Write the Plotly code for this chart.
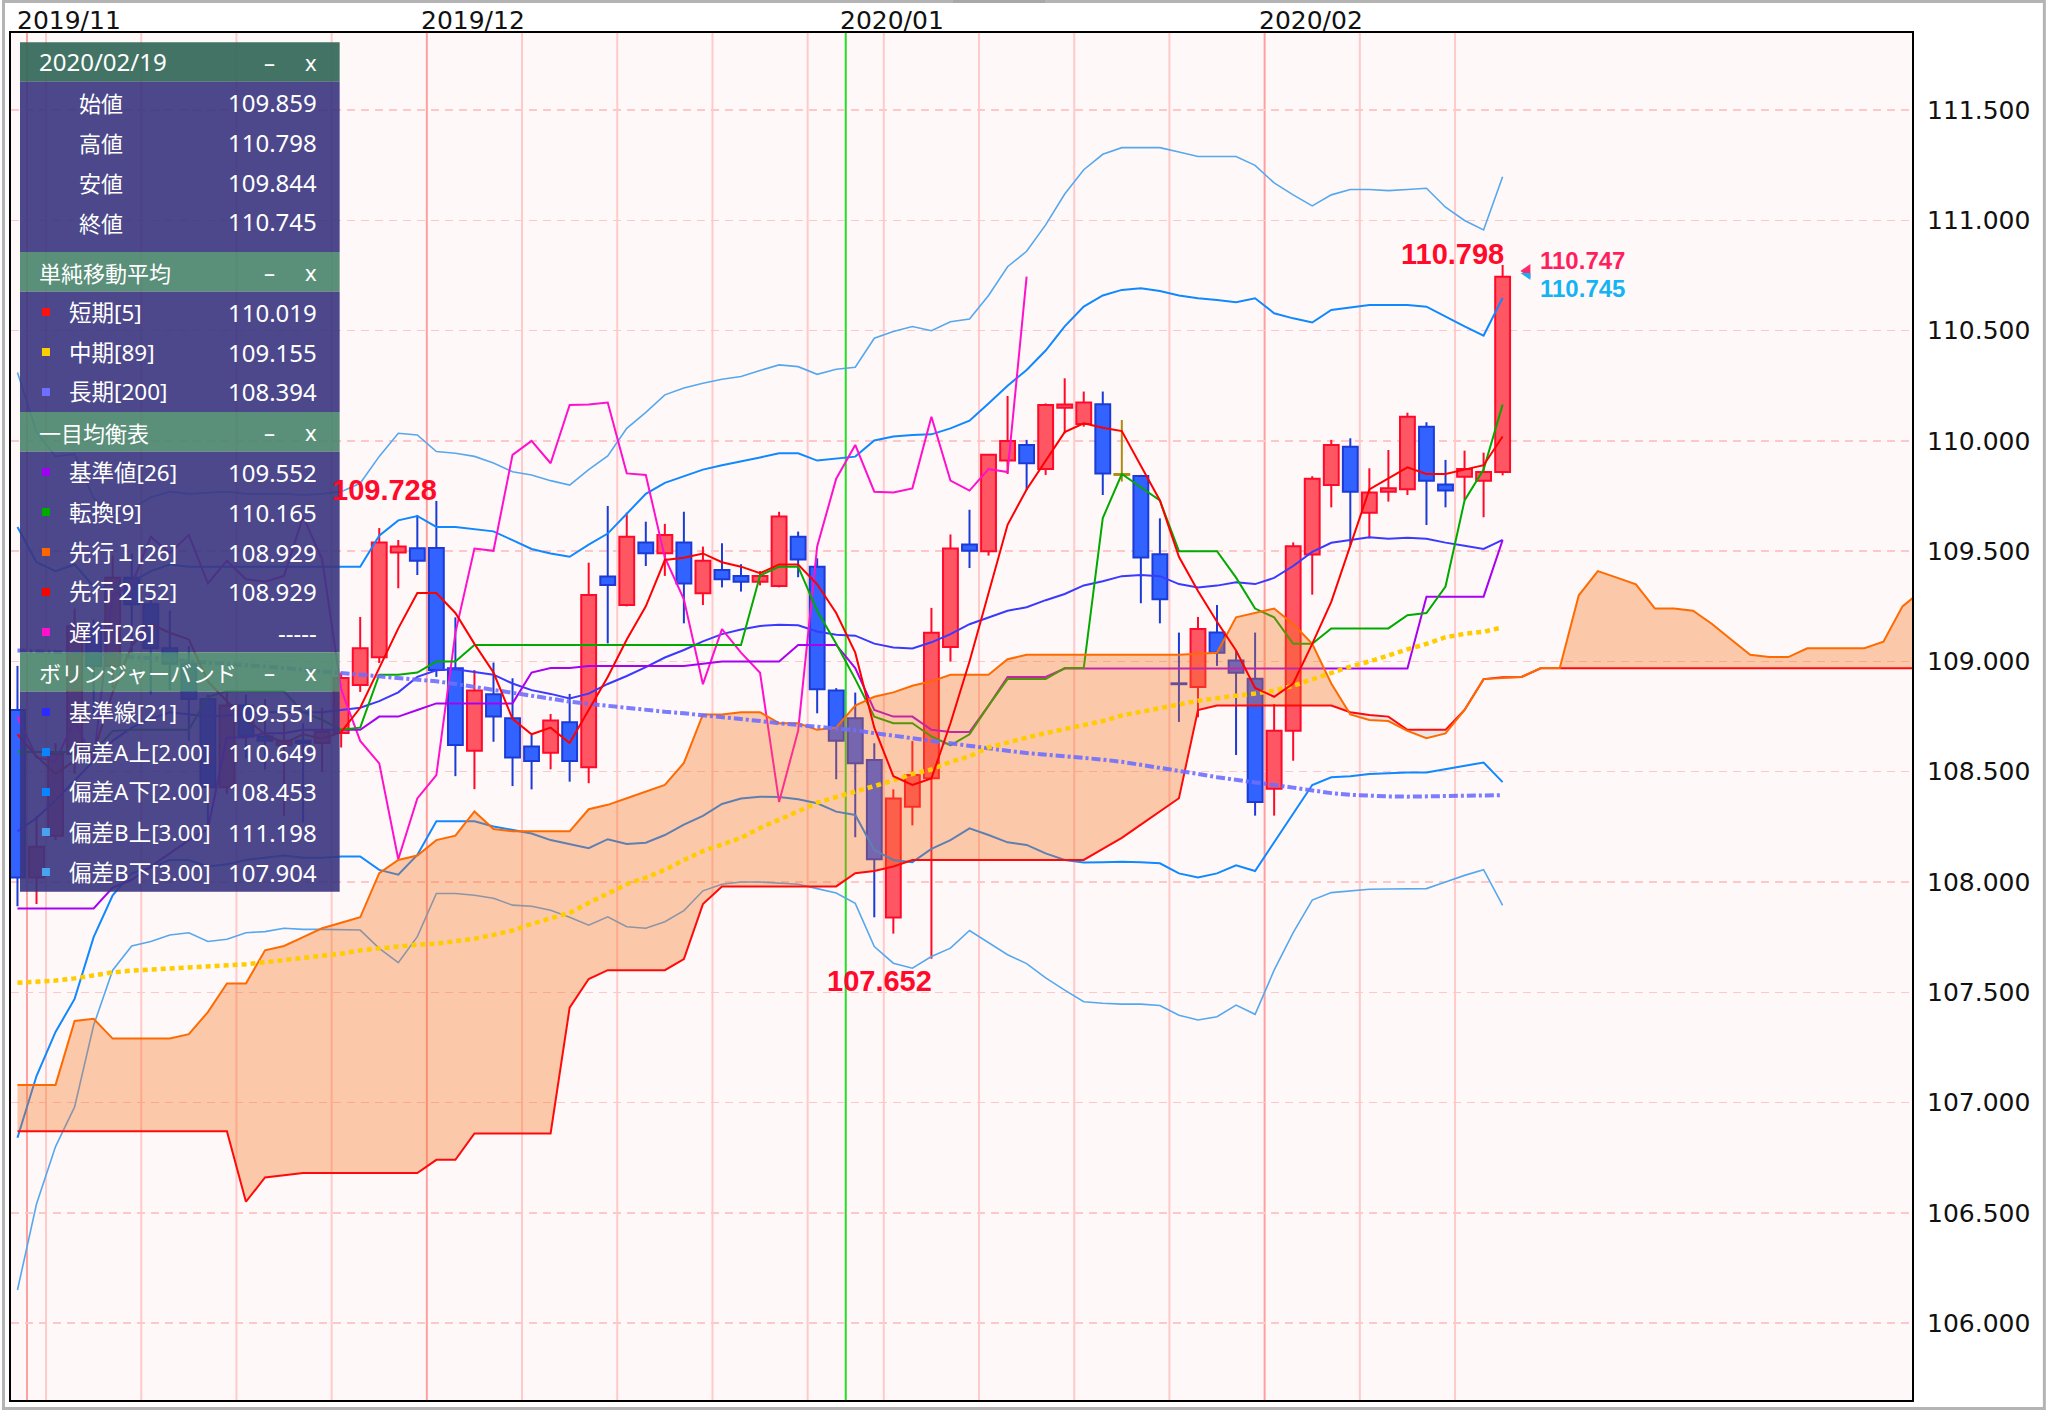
import plotly.graph_objects as go
import pandas as pd

# ---------------- figure geometry (pixels) ----------------
W, H = 2046, 1410
PL, PR, PT, PB = 9, 1912, 33, 1400

def fx(x):
    return (x - PL) / (PR - PL)

def fy(y):
    return (PB - y) / (PB - PT)

# ---------------- data ----------------
dates = [d for d in pd.bdate_range("2019-10-31", "2020-02-19") if not (d.month == 1 and d.day == 1)]
idx = list(range(len(dates)))

opens = [108.78, 108.02, 108.21, 108.58, 109.16, 108.98, 109.38, 109.26, 109.06, 108.99,
         108.83, 108.43, 108.80, 108.66, 108.62, 108.64, 108.63, 108.676, 108.893, 109.019,
         109.494, 109.513, 109.515, 108.969, 108.595, 108.851, 108.742, 108.614, 108.586, 108.724,
         108.52, 109.385, 109.256, 109.539, 109.491, 109.539, 109.309, 109.415, 109.388, 109.362,
         109.342, 109.566, 109.43, 108.868, 108.742, 108.553, 107.839, 108.341, 108.47, 109.066,
         109.53, 109.5, 109.911, 109.982, 109.873, 110.151, 110.077, 110.166, 109.846, 109.841,
         109.486, 108.899, 108.884, 109.131, 109.004, 108.922, 108.423, 108.686, 109.485, 109.8,
         109.974, 109.675, 109.77, 109.781, 110.065, 109.803, 109.838, 109.82, 109.859]
highs = [108.98, 108.30, 108.63, 109.24, 109.19, 109.48, 109.49, 109.30, 109.23, 109.07,
         108.85, 108.86, 108.85, 108.83, 108.73, 108.72, 108.79, 108.95, 109.202, 109.605,
         109.551, 109.664, 109.728, 109.20, 108.961, 108.995, 108.924, 108.667, 108.762, 108.853,
         109.448, 109.705, 109.675, 109.634, 109.624, 109.679, 109.521, 109.536, 109.441, 109.41,
         109.679, 109.589, 109.468, 108.879, 108.859, 108.629, 108.42, 108.639, 109.243, 109.576,
         109.688, 109.94, 110.204, 110.005, 110.17, 110.284, 110.224, 110.224, 110.095, 109.846,
         109.649, 109.131, 109.202, 109.256, 109.05, 109.131, 108.807, 109.54, 109.84, 110.005,
         110.012, 109.876, 109.959, 110.128, 110.085, 109.914, 109.956, 109.947, 110.798]
lows = [107.89, 107.90, 108.19, 108.49, 108.76, 108.88, 109.04, 108.85, 108.87, 108.64,
        108.24, 108.40, 108.56, 108.51, 108.30, 108.27, 108.50, 108.61, 108.862, 108.993,
        109.332, 109.392, 108.93, 108.48, 108.421, 108.636, 108.435, 108.42, 108.511, 108.455,
        108.448, 109.082, 109.25, 109.433, 109.388, 109.173, 109.256, 109.336, 109.317, 109.345,
        109.336, 109.382, 108.765, 108.466, 108.203, 107.84, 107.766, 108.257, 107.652, 109.0,
        109.424, 109.48, 109.85, 109.778, 109.846, 110.035, 110.065, 109.755, 109.816, 109.264,
        109.173, 108.726, 108.747, 108.98, 108.576, 108.301, 108.301, 108.55, 109.303, 109.699,
        109.528, 109.559, 109.725, 109.755, 109.619, 109.699, 109.732, 109.654, 109.844]
closes = [108.02, 108.16, 108.58, 109.16, 108.98, 109.38, 109.26, 109.06, 108.99, 108.83,
          108.43, 108.80, 108.66, 108.64, 108.64, 108.63, 108.68, 108.925, 109.06, 109.539,
          109.521, 109.457, 108.961, 108.621, 108.868, 108.75, 108.565, 108.549, 108.732, 108.549,
          109.302, 109.347, 109.566, 109.491, 109.574, 109.354, 109.457, 109.373, 109.362, 109.388,
          109.657, 109.463, 108.874, 108.64, 108.538, 108.103, 108.379, 108.485, 109.13, 109.512,
          109.502, 109.937, 110.0, 109.899, 110.163, 110.165, 110.174, 109.853, 109.846, 109.472,
          109.282, 108.897, 109.147, 109.04, 108.949, 108.363, 108.686, 109.522, 109.829, 109.982,
          109.77, 109.766, 109.785, 110.11, 109.82, 109.775, 109.873, 109.859, 110.745]

sma5 = [108.67, 108.57, 108.49, 108.55, 108.59, 108.86, 109.07, 109.17, 109.13, 109.10,
        108.91, 108.82, 108.74, 108.67, 108.63, 108.67, 108.65, 108.68, 108.79, 108.97,
        109.15, 109.31, 109.31, 109.22, 109.08, 108.95, 108.74, 108.67, 108.70, 108.63,
        108.78, 108.93, 109.10, 109.25, 109.46, 109.47, 109.49, 109.45, 109.43, 109.40,
        109.44, 109.44, 109.35, 109.22, 109.04, 108.70, 108.48, 108.44, 108.47, 108.72,
        109.00, 109.31, 109.62, 109.78, 109.91, 110.04, 110.08, 110.06, 110.045, 109.89,
        109.73, 109.475, 109.32, 109.18, 109.05, 108.88, 108.84, 108.90, 109.08, 109.27,
        109.53, 109.78, 109.83, 109.88, 109.85, 109.85, 109.87, 109.89, 110.02]
sma89 = [107.543, 107.546, 107.553, 107.563, 107.578, 107.59, 107.598, 107.602, 107.606, 107.61,
         107.615, 107.62, 107.627, 107.636, 107.645, 107.653, 107.662, 107.675, 107.69, 107.70,
         107.71, 107.716, 107.72, 107.73, 107.743, 107.76, 107.78, 107.81, 107.835, 107.86,
         107.905, 107.95, 107.99, 108.02, 108.055, 108.10, 108.14, 108.17, 108.20, 108.245,
         108.28, 108.32, 108.36, 108.385, 108.41, 108.43, 108.46, 108.49, 108.51, 108.545,
         108.57, 108.61, 108.635, 108.655, 108.675, 108.692, 108.71, 108.73, 108.755, 108.77,
         108.79, 108.805, 108.822, 108.835, 108.845, 108.855, 108.868, 108.89, 108.918, 108.95,
         108.977, 109.0, 109.03, 109.055, 109.08, 109.11, 109.125, 109.135, 109.155]
sma200 = [109.05, 109.048, 109.045, 109.04, 109.035, 109.03, 109.02, 109.015, 109.01, 109.0,
          108.995, 108.99, 108.985, 108.978, 108.97, 108.963, 108.955, 108.947, 108.94, 108.934,
          108.928, 108.92, 108.91, 108.898, 108.885, 108.87, 108.855, 108.843, 108.83, 108.818,
          108.808, 108.798, 108.788, 108.78, 108.772, 108.765, 108.757, 108.75, 108.74, 108.73,
          108.72, 108.713, 108.706, 108.697, 108.688, 108.675, 108.665, 108.652, 108.64, 108.628,
          108.615, 108.605, 108.595, 108.585, 108.578, 108.571, 108.563, 108.555, 108.545, 108.532,
          108.518, 108.503, 108.49, 108.475, 108.462, 108.45, 108.44, 108.428, 108.415, 108.403,
          108.395, 108.39, 108.388, 108.387, 108.388, 108.389, 108.39, 108.392, 108.394]

tenkan = [108.59, 108.59, 108.59, 108.59, 108.59, 108.685, 108.69, 108.69, 108.69, 108.69,
          108.84, 108.865, 108.865, 108.865, 108.865, 108.77, 108.735, 108.69, 108.70, 108.94,
          108.94, 108.95, 109.0, 109.0, 109.075, 109.075, 109.075, 109.075, 109.075, 109.075,
          109.075, 109.075, 109.075, 109.075, 109.075, 109.075, 109.075, 109.075, 109.075, 109.39,
          109.43, 109.43, 109.23, 109.08, 108.92, 108.75, 108.72, 108.72, 108.66, 108.62,
          108.67, 108.80, 108.92, 108.92, 108.92, 108.97, 108.97, 109.65, 109.85, 109.79,
          109.73, 109.50, 109.50, 109.50, 109.38, 109.24, 109.20, 109.08, 109.08, 109.15,
          109.15, 109.15, 109.15, 109.21, 109.22, 109.34, 109.73, 109.87, 110.165]
kijun = [107.88, 107.88, 107.88, 107.88, 107.88, 107.975, 108.01, 108.07, 108.13, 108.19,
         108.24, 108.655, 108.655, 108.675, 108.675, 108.69, 108.69, 108.69, 108.69, 108.75,
         108.75, 108.78, 108.81, 108.81, 108.81, 108.81, 108.81, 108.95, 108.97, 108.97,
         108.98, 108.98, 108.98, 108.98, 108.98, 108.98, 108.99, 109.0, 109.0, 109.0,
         109.0, 109.075, 109.075, 109.075, 108.97, 108.78, 108.75, 108.75, 108.69, 108.68,
         108.68, 108.80, 108.93, 108.93, 108.93, 108.968, 108.968, 108.968, 108.968, 108.968,
         108.968, 108.968, 108.968, 108.968, 108.968, 108.968, 108.968, 108.968, 108.968, 108.968,
         108.968, 108.968, 108.968, 108.968, 109.294, 109.294, 109.294, 109.294, 109.551]
span_a = [107.08, 107.08, 107.08, 107.37, 107.38, 107.29, 107.29, 107.29, 107.29, 107.31,
          107.41, 107.54, 107.54, 107.69, 107.71, 107.75, 107.79, 107.815, 107.84, 108.04,
          108.10, 108.12, 108.19, 108.21, 108.32, 108.24, 108.23, 108.23, 108.23, 108.23,
          108.33, 108.35, 108.38, 108.41, 108.44, 108.54, 108.76, 108.76, 108.77, 108.77,
          108.72, 108.72, 108.69, 108.70, 108.80, 108.84, 108.86, 108.89, 108.91, 108.94,
          108.94, 108.94, 109.01, 109.03, 109.03, 109.03, 109.03, 109.03, 109.03, 109.03,
          109.03, 109.03, 109.035, 109.04, 109.20, 109.22, 109.24, 109.17, 109.08, 108.90,
          108.76, 108.735, 108.73, 108.685, 108.652, 108.674, 108.78, 108.92, 108.925, 108.93,
          108.97, 108.97, 109.30, 109.41, 109.38, 109.35, 109.24, 109.24, 109.23, 109.17,
          109.10, 109.03, 109.02, 109.02, 109.06, 109.06, 109.06, 109.06, 109.09, 109.25, 109.32]
span_b = [106.87, 106.87, 106.87, 106.87, 106.87, 106.87, 106.87, 106.87, 106.87, 106.87,
          106.87, 106.87, 106.55, 106.66, 106.67, 106.68, 106.68, 106.68, 106.68, 106.68,
          106.68, 106.68, 106.74, 106.74, 106.86, 106.86, 106.86, 106.86, 106.86, 107.43,
          107.56, 107.60, 107.60, 107.60, 107.60, 107.65, 107.90, 107.98, 107.98, 107.98,
          107.98, 107.98, 107.98, 107.98, 108.04, 108.05, 108.07, 108.10, 108.10, 108.10,
          108.10, 108.10, 108.10, 108.10, 108.10, 108.10, 108.10, 108.15, 108.20, 108.26,
          108.32, 108.38, 108.78, 108.80, 108.80, 108.80, 108.80, 108.80, 108.80, 108.80,
          108.77, 108.757, 108.75, 108.69, 108.69, 108.69, 108.78, 108.92, 108.929, 108.93,
          108.969, 108.969, 108.969, 108.969, 108.969, 108.969, 108.969, 108.969, 108.969, 108.969,
          108.969, 108.969, 108.969, 108.969, 108.969, 108.969, 108.969, 108.969, 108.969, 108.969, 108.969]
bb_mid = [108.23, 108.29, 108.37, 108.46, 108.55, 108.64, 108.70, 108.74, 108.77, 108.76,
          108.75, 108.755, 108.765, 108.77, 108.77, 108.77, 108.77, 108.78, 108.79, 108.82,
          108.86, 108.93, 108.96, 108.965, 108.953, 108.94, 108.90, 108.87, 108.853, 108.832,
          108.854, 108.898, 108.934, 108.974, 109.018, 109.052, 109.091, 109.124, 109.145, 109.161,
          109.167, 109.164, 109.136, 109.121, 109.117, 109.081, 109.063, 109.059, 109.087, 109.124,
          109.169, 109.199, 109.23, 109.246, 109.278, 109.306, 109.345, 109.364, 109.387, 109.392,
          109.387, 109.351, 109.336, 109.344, 109.359, 109.351, 109.379, 109.433, 109.497, 109.538,
          109.55, 109.563, 109.556, 109.561, 109.557, 109.539, 109.525, 109.51, 109.551]
bb_up2 = [109.61, 109.45, 109.41, 109.44, 109.34, 109.33, 109.36, 109.41, 109.44, 109.43,
          109.43, 109.43, 109.43, 109.43, 109.43, 109.43, 109.43, 109.43, 109.43, 109.57,
          109.64, 109.66, 109.61, 109.61, 109.60, 109.59, 109.55, 109.51, 109.49, 109.475,
          109.53, 109.58, 109.67, 109.76, 109.81, 109.84, 109.87, 109.89, 109.906, 109.925,
          109.944, 109.944, 109.911, 109.921, 109.929, 110.002, 110.02, 110.027, 110.03, 110.057,
          110.092, 110.17, 110.25, 110.322, 110.41, 110.52, 110.609, 110.66, 110.685, 110.692,
          110.68, 110.66, 110.647, 110.639, 110.629, 110.647, 110.579, 110.556, 110.537, 110.594,
          110.606, 110.617, 110.617, 110.617, 110.609, 110.564, 110.52, 110.478, 110.649]
bb_up3 = [110.31, 110.04, 109.93, 109.94, 109.74, 109.67, 109.69, 109.745, 109.77, 109.76,
          109.765, 109.77, 109.76, 109.76, 109.76, 109.755, 109.76, 109.77, 109.808, 109.93,
          110.035, 110.027, 109.952, 109.944, 109.93, 109.90, 109.86, 109.846, 109.82, 109.80,
          109.87, 109.932, 110.057, 110.13, 110.209, 110.24, 110.262, 110.28, 110.292, 110.32,
          110.345, 110.337, 110.302, 110.325, 110.334, 110.466, 110.496, 110.519, 110.50, 110.541,
          110.553, 110.66, 110.79, 110.86, 110.98, 111.12, 111.23, 111.30, 111.33, 111.33,
          111.33, 111.31, 111.29, 111.29, 111.29, 111.25, 111.17, 111.116, 111.066, 111.116,
          111.14, 111.14, 111.135, 111.14, 111.146, 111.06, 111.0, 110.957, 111.198]
bb_dn2 = [106.84, 107.12, 107.32, 107.47, 107.75, 107.94, 108.04, 108.065, 108.10, 108.10,
          108.07, 108.08, 108.10, 108.11, 108.12, 108.11, 108.11, 108.116, 108.116, 108.055,
          108.033, 108.123, 108.275, 108.275, 108.275, 108.252, 108.236, 108.22, 108.19, 108.17,
          108.153, 108.194, 108.172, 108.178, 108.213, 108.26, 108.30, 108.354, 108.379, 108.387,
          108.385, 108.375, 108.357, 108.319, 108.304, 108.145, 108.10, 108.09, 108.15, 108.19,
          108.243, 108.213, 108.18, 108.168, 108.13, 108.10, 108.088, 108.09, 108.092, 108.09,
          108.085, 108.039, 108.021, 108.039, 108.076, 108.05, 108.18, 108.31, 108.44, 108.475,
          108.48, 108.49, 108.494, 108.496, 108.497, 108.512, 108.527, 108.542, 108.453]
bb_dn3 = [106.15, 106.54, 106.80, 106.98, 107.35, 107.60, 107.71, 107.73, 107.76, 107.77,
          107.73, 107.74, 107.77, 107.775, 107.79, 107.785, 107.785, 107.782, 107.782, 107.699,
          107.634, 107.752, 107.948, 107.948, 107.94, 107.926, 107.895, 107.89, 107.872, 107.84,
          107.804, 107.842, 107.797, 107.79, 107.82, 107.87, 107.96, 107.99, 108.0, 108.0,
          107.995, 107.99, 107.97, 107.95, 107.903, 107.707, 107.632, 107.609, 107.662, 107.70,
          107.78, 107.723, 107.67, 107.63, 107.565, 107.51, 107.457, 107.45, 107.446, 107.446,
          107.44, 107.396, 107.374, 107.389, 107.442, 107.40, 107.60, 107.77, 107.918, 107.952,
          107.96, 107.967, 107.968, 107.968, 107.97, 108.0, 108.03, 108.056, 107.894]

CHIKOU_SHIFT = 25
y_ticks = [106.0, 106.5, 107.0, 107.5, 108.0, 108.5, 109.0, 109.5, 110.0, 110.5, 111.0, 111.5]
bid_ask = ["110.747", "110.745"]

legend_ohlc = [("始値", "109.859"), ("高値", "110.798"), ("安値", "109.844"), ("終値", "110.745")]
legend_sma = [("短期[5]", "110.019", "#ff1010"), ("中期[89]", "109.155", "#ffcc00"), ("長期[200]", "108.394", "#6f6fff")]
legend_ichi = [("基準値[26]", "109.552", "#a000f0"), ("転換[9]", "110.165", "#00aa00"),
               ("先行１[26]", "108.929", "#ff6600"), ("先行２[52]", "108.929", "#ff0000"),
               ("遅行[26]", "-----", "#ff10cc")]
legend_bb = [("基準線[21]", "109.551", "#2b2bff"), ("偏差A上[2.00]", "110.649", "#0a84ff"),
             ("偏差A下[2.00]", "108.453", "#0a84ff"), ("偏差B上[3.00]", "111.198", "#4aa3f0"),
             ("偏差B下[3.00]", "107.904", "#4aa3f0")]

# ---------------- traces ----------------
fig = go.Figure()

up_i = [i for i in idx if closes[i] > opens[i]]
dn_i = [i for i in idx if closes[i] < opens[i]]
dj_i = [i for i in idx if closes[i] == opens[i]]

def bodies(ii, fill, edge):
    return go.Bar(x=ii, base=[min(opens[i], closes[i]) for i in ii],
                  y=[max(abs(closes[i] - opens[i]), 0.004) for i in ii],
                  width=0.78, marker=dict(color=fill, line=dict(color=edge, width=2)),
                  hoverinfo="skip", showlegend=False)

def wicks(ii, color):
    xs, ys = [], []
    for i in ii:
        top = max(opens[i], closes[i])
        bot = min(opens[i], closes[i])
        xs += [i, i, None, i, i, None]
        ys += [highs[i], top, None, bot, lows[i], None]
    return go.Scatter(x=xs, y=ys, mode="lines", line=dict(color=color, width=2),
                      hoverinfo="skip", showlegend=False)

fig.add_trace(bodies(up_i, "#ff5664", "#ff0a2a"))
fig.add_trace(bodies(dn_i, "#3262ff", "#1a3bd6"))
fig.add_trace(bodies(dj_i, "#c09010", "#b08a10"))
fig.add_trace(wicks(up_i, "#ff0a2a"))
fig.add_trace(wicks(dn_i, "#1a3bd6"))
fig.add_trace(wicks(dj_i, "#b08a10"))

def line(y, color, width=2, dash=None, x=None):
    return go.Scatter(x=x if x is not None else idx[:len(y)], y=y, mode="lines",
                      line=dict(color=color, width=width, dash=dash),
                      hoverinfo="skip", showlegend=False)

# Bollinger bands
fig.add_trace(line(bb_up3, "#56a8ee", 1.6))
fig.add_trace(line(bb_dn3, "#56a8ee", 1.6))
fig.add_trace(line(bb_up2, "#1088ff", 2))
fig.add_trace(line(bb_dn2, "#1088ff", 2))
fig.add_trace(line(bb_mid, "#3a3aff", 2))

# Ichimoku lines
chikou_y = closes[CHIKOU_SHIFT:]
fig.add_trace(line(chikou_y, "#ff10cc", 2, x=idx[:len(chikou_y)]))
fig.add_trace(line(kijun, "#a800f0", 2))
fig.add_trace(line(tenkan, "#00aa00", 2))

# cloud
xc = list(range(len(span_a)))
cloud_top = [max(a, b) for a, b in zip(span_a, span_b)]
fig.add_trace(go.Scatter(x=xc, y=span_b, mode="lines", line=dict(width=0), hoverinfo="skip", showlegend=False))
fig.add_trace(go.Scatter(x=xc, y=cloud_top, mode="lines", line=dict(width=0), fill="tonexty",
                         fillcolor="rgba(246,111,25,0.35)", hoverinfo="skip", showlegend=False))
fig.add_trace(go.Scatter(x=xc, y=span_a, mode="lines", line=dict(width=0), hoverinfo="skip", showlegend=False))
fig.add_trace(go.Scatter(x=xc, y=cloud_top, mode="lines", line=dict(width=0), fill="tonexty",
                         fillcolor="rgba(180,180,180,0.25)", hoverinfo="skip", showlegend=False))
fig.add_trace(line(span_b, "#ff0a0a", 2, x=xc))
fig.add_trace(line(span_a, "#ff6a00", 2, x=xc))

# moving averages
fig.add_trace(line(sma200, "rgba(110,110,255,0.9)", 4, dash="9px,3px,3px,3px"))
fig.add_trace(line(sma89, "#ffcc00", 4.5, dash="5px,4px"))
fig.add_trace(line(sma5, "#ff0000", 2))

# ---------------- shapes ----------------
shapes = []
for i in idx[1:]:
    d, p = dates[i], dates[i - 1]
    if d.month != p.month:
        col = "#22dd22" if d.year != p.year else "#ffa0a0"
    elif d.weekday() < p.weekday():
        col = "#ffcaca"
    else:
        continue
    shapes.append(dict(type="line", xref="x", yref="paper", x0=i - 0.5, x1=i - 0.5, y0=0, y1=1,
                       line=dict(color=col, width=2), layer="below"))

panel_x0, panel_x1 = 18, 338
sections = [
    (42.3, 81.7, "rgba(56,108,92,0.95)"),
    (81.7, 252.0, "rgba(58,54,128,0.91)"),
    (252.0, 291.7, "rgba(78,134,112,0.93)"),
    (291.7, 412.0, "rgba(58,54,128,0.91)"),
    (412.0, 451.7, "rgba(78,134,112,0.93)"),
    (451.7, 652.3, "rgba(58,54,128,0.91)"),
    (652.3, 691.7, "rgba(78,134,112,0.93)"),
    (691.7, 891.7, "rgba(58,54,128,0.91)"),
]
for y0, y1, c in sections:
    shapes.append(dict(type="rect", xref="paper", yref="paper", x0=fx(panel_x0), x1=fx(panel_x1),
                       y0=fy(y1), y1=fy(y0), fillcolor=c, line=dict(width=0), layer="above"))

shapes.append(dict(type="rect", xref="paper", yref="paper", x0=fx(1.5), x1=fx(W - 1.5),
                   y0=fy(H - 1.5), y1=fy(1.5), line=dict(color="#b4b4b4", width=3), layer="above"))
shapes.append(dict(type="rect", xref="paper", yref="paper", x0=fx(952), x1=fx(1044),
                   y0=fy(3), y1=fy(0), fillcolor="#a8a8a8", line=dict(width=0), layer="above"))
shapes.append(dict(type="path", xref="paper", yref="paper",
                   path="M {} {} L {} {} L {} {} Z".format(fx(1520), fy(271), fx(1530), fy(264), fx(1530), fy(278)),
                   fillcolor="#ff2a6a", line=dict(width=0), layer="above"))
shapes.append(dict(type="path", xref="paper", yref="paper",
                   path="M {} {} L {} {} L {} {} Z".format(fx(1520), fy(273), fx(1530), fy(273), fx(1530), fy(280)),
                   fillcolor="#18b0f0", line=dict(width=0), layer="above"))

# ---------------- annotations ----------------
ann = []
LAB = "Noto Sans, Noto Sans CJK JP"
CJK = "Noto Sans CJK JP"
WHITE = "#ffffff"

def ptext(x, y, text, anchor="left", size=22, color=WHITE, family=LAB):
    ann.append(dict(xref="paper", yref="paper", x=fx(x), y=fy(y), text=text, showarrow=False,
                    xanchor=anchor, yanchor="middle", font=dict(family=family, size=size, color=color)))

def header(yc, title, size=22, family=CJK):
    ptext(35, yc, title, size=size, family=family)
    ptext(268, yc, "–", anchor="center", size=22)
    ptext(309, yc, "x", anchor="center", size=22)

header(62, dates[-1].strftime("%Y/%m/%d"), size=24, family="Noto Sans")
for k, (lab, val) in enumerate(legend_ohlc):
    yc = 102 + 40 * k
    ptext(99, yc, lab, anchor="center", family=CJK)
    ptext(317, yc, val, anchor="right", size=24, family="Noto Sans")

def block(y_header, title, items):
    header(y_header, title)
    for k, (lab, val, col) in enumerate(items):
        yc = y_header + 40 * (k + 1)
        shapes.append(dict(type="rect", xref="paper", yref="paper", x0=fx(40), x1=fx(48),
                           y0=fy(yc + 4), y1=fy(yc - 4), fillcolor=col, line=dict(width=0), layer="above"))
        ptext(65, yc, lab, size=22.5)
        ptext(317, yc, val, anchor="right", size=24, family="Noto Sans")

block(272, "単純移動平均", legend_sma)
block(432, "一目均衡表", legend_ichi)
block(672, "ボリンジャーバンド", legend_bb)

for i in idx[1:]:
    if dates[i].month != dates[i - 1].month:
        ann.append(dict(xref="x", yref="paper", x=i - 0.5, y=fy(20), text=dates[i].strftime("%Y/%m"),
                        showarrow=False, xanchor="left", yanchor="middle", xshift=-8 if i > 1 else -12,
                        font=dict(family="DejaVu Sans", size=25, color="#111111")))

i_hi = max(idx, key=lambda i: highs[i])
i_lo = min(idx, key=lambda i: lows[i])
i_hi2 = max(idx[:40], key=lambda i: highs[i])
BOLD = dict(family="Liberation Sans", size=29, color="#ff0a2a")
for i, val, shift in [(i_hi, highs[i_hi], 11), (i_hi2, highs[i_hi2], 11), (i_lo, lows[i_lo], -22)]:
    ann.append(dict(xref="x", yref="y", x=i, y=val, text="<b>{:.3f}</b>".format(val), showarrow=False,
                    xanchor="right", yanchor="middle", yshift=shift, xshift=3, font=BOLD))

ann.append(dict(xref="paper", yref="paper", x=fx(1539), y=fy(260), text="<b>" + bid_ask[0] + "</b>", showarrow=False,
                xanchor="left", yanchor="middle", borderpad=0,
                font=dict(family="Liberation Sans", size=24, color="#ff1f5f")))
ann.append(dict(xref="paper", yref="paper", x=fx(1539), y=fy(289), text="<b>" + bid_ask[1] + "</b>",
                showarrow=False, xanchor="left", yanchor="middle", borderpad=0,
                font=dict(family="Liberation Sans", size=24, color="#14b4f4")))

# ---------------- layout ----------------
fig.update_layout(
    width=W, height=H, autosize=False,
    margin=dict(l=PL, r=W - PR, t=PT, b=H - PB, pad=0),
    paper_bgcolor="#ffffff", plot_bgcolor="#fff8f8",
    showlegend=False, barmode="overlay",
    xaxis=dict(range=[-0.34, 99.5], showticklabels=False, showgrid=False, zeroline=False,
               showline=True, mirror=True, linecolor="#000000", linewidth=2, ticks=""),
    yaxis=dict(range=[105.651, 111.850], side="right", tickvals=y_ticks, tickformat=".3f",
               showgrid=True, gridcolor="#ffc8c8", gridwidth=1.5, griddash="8px,6px",
               zeroline=False, showline=True, mirror=True, linecolor="#000000", linewidth=2,
               ticks="", ticklabelstandoff=8,
               tickfont=dict(family="DejaVu Sans", size=25, color="#111111")),
    shapes=shapes, annotations=ann,
)

fig.write_html("out.html", config={"displayModeBar": False, "staticPlot": True},
               post_script="document.body.style.margin='0px';document.body.style.overflow='hidden';")
